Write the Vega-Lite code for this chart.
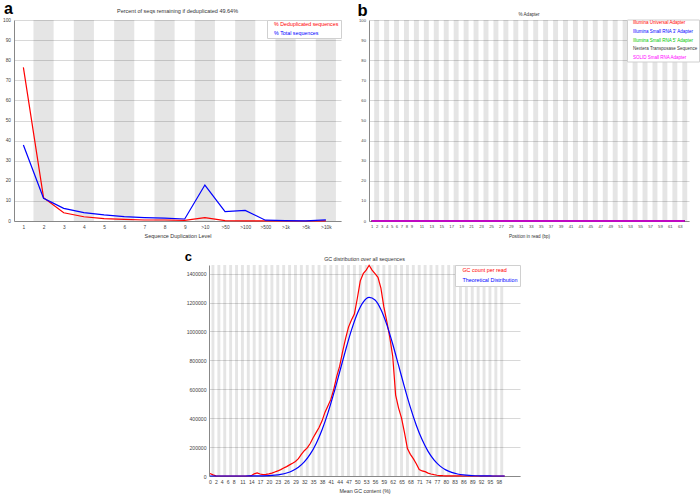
{
  "$schema": "https://vega.github.io/schema/vega-lite/v6.json",
  "background": "white",
  "padding": {"left": 2, "top": 0, "right": 0, "bottom": 0},
  "config": {
    "font": "Liberation Sans",
    "view": {"stroke": null},
    "axis": {"ticks": false, "grid": false, "domainColor": "#888", "domainWidth": 1, "labelColor": "#444", "titleColor": "#333", "titleFontWeight": "normal", "labelFlush": false, "labelOverlap": false, "labelBound": false, "gridColor": "#d8d8d8", "gridWidth": 1},
    "title": {"fontWeight": "normal", "color": "#333", "anchor": "middle", "frame": "group", "baseline": "bottom"},
    "legend": {"symbolType": "circle", "symbolSize": 0, "symbolStrokeWidth": 0, "symbolOpacity": 0, "labelOffset": 0, "labelLimit": 0, "strokeColor": "#d0d0d0", "fillColor": "#ffffff", "orient": "top-right", "offset": 0}
  },
  "spacing": 10,
  "resolve": {"scale": {"color": "independent"}, "legend": {"color": "independent"}},
  "vconcat": [
    {
      "hconcat": [
        {
          "width": 327, "height": 201,
          "title": {"text": "Percent of seqs remaining if deduplicated 49.64%", "fontSize": 5.5, "offset": -14},
          "layer": [
            {
              "data": {"values": [{"k": 2}, {"k": 4}, {"k": 6}, {"k": 8}, {"k": 10}, {"k": 12}, {"k": 14}, {"k": 16}]},
              "transform": [{"calculate": "datum.k - 0.5", "as": "lo"}, {"calculate": "datum.k + 0.5", "as": "hi"}],
              "mark": {"type": "rect", "color": "#000", "opacity": 0.1},
              "encoding": {
                "x": {"field": "lo", "type": "quantitative", "scale": {"domain": [0.535, 16.75], "nice": false, "zero": false},
                  "axis": {"values": [1, 2, 3, 4, 5, 6, 7, 8, 9, 10, 11, 12, 13, 14, 15, 16], "labelExpr": "['','1','2','3','4','5','6','7','8','9','>10','>50','>100','>500','>1k','>5k','>10k'][datum.value]", "labelFontSize": 4.8, "labelPadding": 3.5, "title": "Sequence Duplication Level", "titleFontSize": 5.4, "titlePadding": 4.5}},
                "x2": {"field": "hi"}
              }
            },
            {
              "data": {"values": [
                {"level": 1, "dedup": 76.4, "total": 37.8},
                {"level": 2, "dedup": 11.6, "total": 11.3},
                {"level": 3, "dedup": 4.1, "total": 6.3},
                {"level": 4, "dedup": 2.1, "total": 4.2},
                {"level": 5, "dedup": 1.2, "total": 3.0},
                {"level": 6, "dedup": 0.8, "total": 2.2},
                {"level": 7, "dedup": 0.5, "total": 1.7},
                {"level": 8, "dedup": 0.5, "total": 1.4},
                {"level": 9, "dedup": 0.3, "total": 1.0},
                {"level": 10, "dedup": 1.7, "total": 17.9},
                {"level": 11, "dedup": 0.2, "total": 4.7},
                {"level": 12, "dedup": 0.1, "total": 5.3},
                {"level": 13, "dedup": 0.05, "total": 0.4},
                {"level": 14, "dedup": 0, "total": 0.2},
                {"level": 15, "dedup": 0, "total": 0.1},
                {"level": 16, "dedup": 0.1, "total": 0.6}
              ]},
              "transform": [{"fold": ["dedup", "total"], "as": ["series", "pct"]}],
              "mark": {"type": "line", "strokeWidth": 1.2},
              "encoding": {
                "x": {"field": "level", "type": "quantitative", "scale": {"domain": [0.535, 16.75], "nice": false, "zero": false},
                  "axis": {"values": [1, 2, 3, 4, 5, 6, 7, 8, 9, 10, 11, 12, 13, 14, 15, 16], "labelExpr": "['','1','2','3','4','5','6','7','8','9','>10','>50','>100','>500','>1k','>5k','>10k'][datum.value]", "labelFontSize": 4.8, "labelPadding": 3.5, "title": "Sequence Duplication Level", "titleFontSize": 5.4, "titlePadding": 4.5}},
                "y": {"field": "pct", "type": "quantitative", "scale": {"domain": [0, 100], "nice": false},
                  "axis": {"values": [0, 10, 20, 30, 40, 50, 60, 70, 80, 90, 100], "grid": true, "labelFontSize": 4.8, "labelPadding": 3.5, "title": "a", "titleAngle": 0, "titleAlign": "left", "titleBaseline": "alphabetic", "titleX": -10.6, "titleY": -6.6, "titleFontSize": 16, "titleFontWeight": "bold", "titleColor": "#000"}},
                "color": {"field": "series", "type": "nominal", "scale": {"domain": ["dedup", "total"], "range": ["#ff0000", "#0000ff"]},
                  "legend": {"title": null, "labelFontSize": 5.3, "rowPadding": 2.3, "padding": 1.8, "labelExpr": "datum.value == 'dedup' ? '% Deduplicated sequences' : '% Total sequences'", "encode": {"labels": {"update": {"fill": {"signal": "datum.value == 'dedup' ? '#ff0000' : '#0000ff'"}}}}}}
              }
            }
          ]
        },
        {
          "width": 320, "height": 201,
          "title": {"text": "% Adapter", "fontSize": 4.6, "offset": -14},
          "layer": [
            {
              "data": {"values": [{"k": 2}, {"k": 4}, {"k": 6}, {"k": 8}, {"k": 10}, {"k": 12}, {"k": 14}, {"k": 16}, {"k": 18}, {"k": 20}, {"k": 22}, {"k": 24}, {"k": 26}, {"k": 28}, {"k": 30}, {"k": 32}, {"k": 34}, {"k": 36}, {"k": 38}, {"k": 40}, {"k": 42}, {"k": 44}, {"k": 46}, {"k": 48}, {"k": 50}, {"k": 52}, {"k": 54}, {"k": 56}, {"k": 58}, {"k": 60}, {"k": 62}, {"k": 64}]},
              "transform": [{"calculate": "datum.k - 0.5", "as": "lo"}, {"calculate": "datum.k + 0.5", "as": "hi"}],
              "mark": {"type": "rect", "color": "#000", "opacity": 0.1},
              "encoding": {
                "x": {"field": "lo", "type": "quantitative", "scale": {"domain": [0.46, 64.85], "nice": false, "zero": false},
                  "axis": {"values": [1, 2, 3, 4, 5, 6, 7, 8, 9, 11, 13, 15, 17, 19, 21, 23, 25, 27, 29, 31, 33, 35, 37, 39, 41, 43, 45, 47, 49, 51, 53, 55, 57, 59, 61, 63], "labelFontSize": 4.2, "labelPadding": 3.2, "title": "Position in read (bp)", "titleFontSize": 4.6, "titlePadding": 5}},
                "x2": {"field": "hi"}
              }
            },
            {
              "data": {"values": [
                {"pos": 1, "k1": 0, "k2": 0, "k3": 0, "k4": 0, "k5": 0}, {"pos": 2, "k1": 0, "k2": 0, "k3": 0, "k4": 0, "k5": 0},
                {"pos": 3, "k1": 0, "k2": 0, "k3": 0, "k4": 0, "k5": 0}, {"pos": 4, "k1": 0, "k2": 0, "k3": 0, "k4": 0, "k5": 0},
                {"pos": 5, "k1": 0, "k2": 0, "k3": 0, "k4": 0, "k5": 0}, {"pos": 6, "k1": 0, "k2": 0, "k3": 0, "k4": 0, "k5": 0},
                {"pos": 7, "k1": 0, "k2": 0, "k3": 0, "k4": 0, "k5": 0}, {"pos": 8, "k1": 0, "k2": 0, "k3": 0, "k4": 0, "k5": 0},
                {"pos": 9, "k1": 0, "k2": 0, "k3": 0, "k4": 0, "k5": 0}, {"pos": 10, "k1": 0, "k2": 0, "k3": 0, "k4": 0, "k5": 0},
                {"pos": 11, "k1": 0, "k2": 0, "k3": 0, "k4": 0, "k5": 0}, {"pos": 12, "k1": 0, "k2": 0, "k3": 0, "k4": 0, "k5": 0},
                {"pos": 13, "k1": 0, "k2": 0, "k3": 0, "k4": 0, "k5": 0}, {"pos": 14, "k1": 0, "k2": 0, "k3": 0, "k4": 0, "k5": 0},
                {"pos": 15, "k1": 0, "k2": 0, "k3": 0, "k4": 0, "k5": 0}, {"pos": 16, "k1": 0, "k2": 0, "k3": 0, "k4": 0, "k5": 0},
                {"pos": 17, "k1": 0, "k2": 0, "k3": 0, "k4": 0, "k5": 0}, {"pos": 18, "k1": 0, "k2": 0, "k3": 0, "k4": 0, "k5": 0},
                {"pos": 19, "k1": 0, "k2": 0, "k3": 0, "k4": 0, "k5": 0}, {"pos": 20, "k1": 0, "k2": 0, "k3": 0, "k4": 0, "k5": 0},
                {"pos": 21, "k1": 0, "k2": 0, "k3": 0, "k4": 0, "k5": 0}, {"pos": 22, "k1": 0, "k2": 0, "k3": 0, "k4": 0, "k5": 0},
                {"pos": 23, "k1": 0, "k2": 0, "k3": 0, "k4": 0, "k5": 0}, {"pos": 24, "k1": 0, "k2": 0, "k3": 0, "k4": 0, "k5": 0},
                {"pos": 25, "k1": 0, "k2": 0, "k3": 0, "k4": 0, "k5": 0}, {"pos": 26, "k1": 0, "k2": 0, "k3": 0, "k4": 0, "k5": 0},
                {"pos": 27, "k1": 0, "k2": 0, "k3": 0, "k4": 0, "k5": 0}, {"pos": 28, "k1": 0, "k2": 0, "k3": 0, "k4": 0, "k5": 0},
                {"pos": 29, "k1": 0, "k2": 0, "k3": 0, "k4": 0, "k5": 0}, {"pos": 30, "k1": 0, "k2": 0, "k3": 0, "k4": 0, "k5": 0},
                {"pos": 31, "k1": 0, "k2": 0, "k3": 0, "k4": 0, "k5": 0}, {"pos": 32, "k1": 0, "k2": 0, "k3": 0, "k4": 0, "k5": 0},
                {"pos": 33, "k1": 0, "k2": 0, "k3": 0, "k4": 0, "k5": 0}, {"pos": 34, "k1": 0, "k2": 0, "k3": 0, "k4": 0, "k5": 0},
                {"pos": 35, "k1": 0, "k2": 0, "k3": 0, "k4": 0, "k5": 0}, {"pos": 36, "k1": 0, "k2": 0, "k3": 0, "k4": 0, "k5": 0},
                {"pos": 37, "k1": 0, "k2": 0, "k3": 0, "k4": 0, "k5": 0}, {"pos": 38, "k1": 0, "k2": 0, "k3": 0, "k4": 0, "k5": 0},
                {"pos": 39, "k1": 0, "k2": 0, "k3": 0, "k4": 0, "k5": 0}, {"pos": 40, "k1": 0, "k2": 0, "k3": 0, "k4": 0, "k5": 0},
                {"pos": 41, "k1": 0, "k2": 0, "k3": 0, "k4": 0, "k5": 0}, {"pos": 42, "k1": 0, "k2": 0, "k3": 0, "k4": 0, "k5": 0},
                {"pos": 43, "k1": 0, "k2": 0, "k3": 0, "k4": 0, "k5": 0}, {"pos": 44, "k1": 0, "k2": 0, "k3": 0, "k4": 0, "k5": 0},
                {"pos": 45, "k1": 0, "k2": 0, "k3": 0, "k4": 0, "k5": 0}, {"pos": 46, "k1": 0, "k2": 0, "k3": 0, "k4": 0, "k5": 0},
                {"pos": 47, "k1": 0, "k2": 0, "k3": 0, "k4": 0, "k5": 0}, {"pos": 48, "k1": 0, "k2": 0, "k3": 0, "k4": 0, "k5": 0},
                {"pos": 49, "k1": 0, "k2": 0, "k3": 0, "k4": 0, "k5": 0}, {"pos": 50, "k1": 0, "k2": 0, "k3": 0, "k4": 0, "k5": 0},
                {"pos": 51, "k1": 0, "k2": 0, "k3": 0, "k4": 0, "k5": 0}, {"pos": 52, "k1": 0, "k2": 0, "k3": 0, "k4": 0, "k5": 0},
                {"pos": 53, "k1": 0, "k2": 0, "k3": 0, "k4": 0, "k5": 0}, {"pos": 54, "k1": 0, "k2": 0, "k3": 0, "k4": 0, "k5": 0},
                {"pos": 55, "k1": 0, "k2": 0, "k3": 0, "k4": 0, "k5": 0}, {"pos": 56, "k1": 0, "k2": 0, "k3": 0, "k4": 0, "k5": 0},
                {"pos": 57, "k1": 0, "k2": 0, "k3": 0, "k4": 0, "k5": 0}, {"pos": 58, "k1": 0, "k2": 0, "k3": 0, "k4": 0, "k5": 0},
                {"pos": 59, "k1": 0, "k2": 0, "k3": 0, "k4": 0, "k5": 0}, {"pos": 60, "k1": 0, "k2": 0, "k3": 0, "k4": 0, "k5": 0},
                {"pos": 61, "k1": 0, "k2": 0, "k3": 0, "k4": 0, "k5": 0}, {"pos": 62, "k1": 0, "k2": 0, "k3": 0, "k4": 0, "k5": 0},
                {"pos": 63, "k1": 0, "k2": 0, "k3": 0, "k4": 0, "k5": 0}, {"pos": 64, "k1": 0, "k2": 0, "k3": 0, "k4": 0, "k5": 0}
              ]},
              "transform": [{"fold": ["k1", "k2", "k3", "k4", "k5"], "as": ["adapter", "pct"]}],
              "mark": {"type": "line", "strokeWidth": 1.3},
              "encoding": {
                "x": {"field": "pos", "type": "quantitative", "scale": {"domain": [0.46, 64.85], "nice": false, "zero": false},
                  "axis": {"values": [1, 2, 3, 4, 5, 6, 7, 8, 9, 11, 13, 15, 17, 19, 21, 23, 25, 27, 29, 31, 33, 35, 37, 39, 41, 43, 45, 47, 49, 51, 53, 55, 57, 59, 61, 63], "labelFontSize": 4.2, "labelPadding": 3.2, "title": "Position in read (bp)", "titleFontSize": 4.6, "titlePadding": 5}},
                "y": {"field": "pct", "type": "quantitative", "scale": {"domain": [0, 100], "nice": false},
                  "axis": {"values": [0, 10, 20, 30, 40, 50, 60, 70, 80, 90, 100], "grid": true, "labelFontSize": 4.2, "labelPadding": 3.5, "title": "b", "titleAngle": 0, "titleAlign": "left", "titleBaseline": "alphabetic", "titleX": -12, "titleY": -4.5, "titleFontSize": 16.5, "titleFontWeight": "bold", "titleColor": "#000"}},
                "color": {"field": "adapter", "type": "nominal", "scale": {"domain": ["k1", "k2", "k3", "k4", "k5"], "range": ["#ff0000", "#0000ff", "#00c800", "#000000", "#ff00ff"]},
                  "legend": {"title": null, "orient": "none", "legendX": 258, "legendY": -0.5, "labelFontSize": 4.5, "rowPadding": 3.7, "padding": 1.5,
                    "labelExpr": "['Illumina Universal Adapter','Illumina Small RNA 3\\' Adapter','Illumina Small RNA 5\\' Adapter','Nextera Transposase Sequence','SOLID Small RNA Adapter'][indexof(['k1','k2','k3','k4','k5'], datum.value)]",
                    "encode": {"labels": {"update": {"fill": {"signal": "['#ff0000','#0000ff','#00c800','#333333','#ff00ff'][indexof(['k1','k2','k3','k4','k5'], datum.value)]"}}}}}}
              }
            }
          ]
        }
      ],
      "spacing": 15,
      "resolve": {"scale": {"color": "independent"}, "legend": {"color": "independent"}}
    },
    {
      "hconcat": [
        {
          "width": 170, "height": 10,
          "view": {"fill": "white", "stroke": null},
          "data": {"values": []},
          "mark": "point",
          "encoding": {}
        },
        {
          "width": 311, "height": 211,
          "title": {"text": "GC distribution over all sequences", "fontSize": 5.3, "offset": -12},
          "layer": [
            {
              "data": {"values": [{"k": 1}, {"k": 3}, {"k": 5}, {"k": 7}, {"k": 9}, {"k": 11}, {"k": 13}, {"k": 15}, {"k": 17}, {"k": 19}, {"k": 21}, {"k": 23}, {"k": 25}, {"k": 27}, {"k": 29}, {"k": 31}, {"k": 33}, {"k": 35}, {"k": 37}, {"k": 39}, {"k": 41}, {"k": 43}, {"k": 45}, {"k": 47}, {"k": 49}, {"k": 51}, {"k": 53}, {"k": 55}, {"k": 57}, {"k": 59}, {"k": 61}, {"k": 63}, {"k": 65}, {"k": 67}, {"k": 69}, {"k": 71}, {"k": 73}, {"k": 75}, {"k": 77}, {"k": 79}, {"k": 81}, {"k": 83}, {"k": 85}, {"k": 87}, {"k": 89}, {"k": 91}, {"k": 93}, {"k": 95}, {"k": 97}, {"k": 99}]},
              "transform": [{"calculate": "datum.k - 0.5", "as": "lo"}, {"calculate": "datum.k + 0.5", "as": "hi"}],
              "mark": {"type": "rect", "color": "#000", "opacity": 0.1},
              "encoding": {
                "x": {"field": "lo", "type": "quantitative", "scale": {"domain": [-0.34, 105.2], "nice": false, "zero": false},
                  "axis": {"values": [0, 2, 4, 6, 8, 11, 14, 17, 20, 23, 26, 29, 32, 35, 38, 41, 44, 47, 50, 53, 56, 59, 62, 65, 68, 71, 74, 77, 80, 83, 86, 89, 92, 95, 98], "labelFontSize": 5.1, "labelPadding": 3.5, "title": "Mean GC content (%)", "titleFontSize": 5.3, "titlePadding": 4}},
                "x2": {"field": "hi"}
              }
            },
            {
              "data": {"values": [
                {"gc": 0, "n": 17000}, {"gc": 1, "n": 8000}, {"gc": 2, "n": 1000}, {"gc": 3, "n": 0}, {"gc": 4, "n": 0}, {"gc": 5, "n": 0}, {"gc": 6, "n": 0}, {"gc": 7, "n": 0}, {"gc": 8, "n": 0}, {"gc": 9, "n": 0},
                {"gc": 10, "n": 0}, {"gc": 11, "n": 0}, {"gc": 12, "n": 0}, {"gc": 13, "n": 0}, {"gc": 14, "n": 2000}, {"gc": 15, "n": 15000}, {"gc": 16, "n": 22000}, {"gc": 17, "n": 14000}, {"gc": 18, "n": 10000}, {"gc": 19, "n": 11000},
                {"gc": 20, "n": 15000}, {"gc": 21, "n": 20000}, {"gc": 22, "n": 28000}, {"gc": 23, "n": 35000}, {"gc": 24, "n": 44000}, {"gc": 25, "n": 55000}, {"gc": 26, "n": 65000}, {"gc": 27, "n": 77000}, {"gc": 28, "n": 88000}, {"gc": 29, "n": 100000},
                {"gc": 30, "n": 120000}, {"gc": 31, "n": 150000}, {"gc": 32, "n": 175000}, {"gc": 33, "n": 195000}, {"gc": 34, "n": 225000}, {"gc": 35, "n": 265000}, {"gc": 36, "n": 300000}, {"gc": 37, "n": 335000}, {"gc": 38, "n": 380000}, {"gc": 39, "n": 440000},
                {"gc": 40, "n": 485000}, {"gc": 41, "n": 530000}, {"gc": 42, "n": 600000}, {"gc": 43, "n": 690000}, {"gc": 44, "n": 760000}, {"gc": 45, "n": 860000}, {"gc": 46, "n": 950000}, {"gc": 47, "n": 1030000}, {"gc": 48, "n": 1080000}, {"gc": 49, "n": 1120000},
                {"gc": 50, "n": 1230000}, {"gc": 51, "n": 1350000}, {"gc": 52, "n": 1400000}, {"gc": 53, "n": 1425000}, {"gc": 54, "n": 1458000}, {"gc": 55, "n": 1425000}, {"gc": 56, "n": 1400000}, {"gc": 57, "n": 1375000}, {"gc": 58, "n": 1300000}, {"gc": 59, "n": 1170000},
                {"gc": 60, "n": 1070000}, {"gc": 61, "n": 960000}, {"gc": 62, "n": 830000}, {"gc": 63, "n": 560000}, {"gc": 64, "n": 470000}, {"gc": 65, "n": 400000}, {"gc": 66, "n": 300000}, {"gc": 67, "n": 190000}, {"gc": 68, "n": 150000}, {"gc": 69, "n": 120000},
                {"gc": 70, "n": 85000}, {"gc": 71, "n": 45000}, {"gc": 72, "n": 35000}, {"gc": 73, "n": 30000}, {"gc": 74, "n": 20000}, {"gc": 75, "n": 14000}, {"gc": 76, "n": 9000}, {"gc": 77, "n": 5000}, {"gc": 78, "n": 3000}, {"gc": 79, "n": 2000},
                {"gc": 80, "n": 1500}, {"gc": 81, "n": 1000}, {"gc": 82, "n": 700}, {"gc": 83, "n": 500}, {"gc": 84, "n": 300}, {"gc": 85, "n": 200}, {"gc": 86, "n": 100}, {"gc": 87, "n": 0}, {"gc": 88, "n": 0}, {"gc": 89, "n": 0},
                {"gc": 90, "n": 0}, {"gc": 91, "n": 0}, {"gc": 92, "n": 0}, {"gc": 93, "n": 0}, {"gc": 94, "n": 0}, {"gc": 95, "n": 0}, {"gc": 96, "n": 0}, {"gc": 97, "n": 0}, {"gc": 98, "n": 0}, {"gc": 99, "n": 0}, {"gc": 100, "n": 0}
              ]},
              "mark": {"type": "line", "strokeWidth": 1.2},
              "encoding": {
                "x": {"field": "gc", "type": "quantitative", "scale": {"domain": [-0.34, 105.2], "nice": false, "zero": false},
                  "axis": {"values": [0, 2, 4, 6, 8, 11, 14, 17, 20, 23, 26, 29, 32, 35, 38, 41, 44, 47, 50, 53, 56, 59, 62, 65, 68, 71, 74, 77, 80, 83, 86, 89, 92, 95, 98], "labelFontSize": 5.1, "labelPadding": 3.5, "title": "Mean GC content (%)", "titleFontSize": 5.3, "titlePadding": 4}},
                "y": {"field": "n", "type": "quantitative", "scale": {"domain": [0, 1460000], "nice": false},
                  "axis": {"values": [0, 200000, 400000, 600000, 800000, 1000000, 1200000, 1400000], "format": "d", "grid": true, "labelFontSize": 5.1, "labelPadding": 3, "title": "c", "titleAngle": 0, "titleAlign": "left", "titleBaseline": "alphabetic", "titleX": -24.7, "titleY": -5, "titleFontSize": 13, "titleFontWeight": "bold", "titleColor": "#000"}},
                "color": {"datum": "GC count per read", "type": "nominal", "scale": {"domain": ["GC count per read", "Theoretical Distribution"], "range": ["#ff0000", "#0000ff"]},
                  "legend": {"title": null, "labelFontSize": 5.4, "rowPadding": 3, "padding": 2, "encode": {"labels": {"update": {"fill": {"signal": "datum.value == 'GC count per read' ? '#ff0000' : '#0000ff'"}}}}}}
              }
            },
            {
              "data": {"values": [
                {"gc": 0, "n": 0}, {"gc": 2, "n": 0}, {"gc": 4, "n": 0}, {"gc": 6, "n": 0}, {"gc": 8, "n": 10}, {"gc": 10, "n": 55}, {"gc": 12, "n": 134}, {"gc": 14, "n": 312}, {"gc": 16, "n": 696}, {"gc": 18, "n": 1488},
                {"gc": 20, "n": 3057}, {"gc": 22, "n": 6027}, {"gc": 24, "n": 11424}, {"gc": 26, "n": 20770}, {"gc": 28, "n": 36260}, {"gc": 30, "n": 60810}, {"gc": 32, "n": 97790}, {"gc": 34, "n": 151000}, {"gc": 36, "n": 223900}, {"gc": 38, "n": 318700},
                {"gc": 40, "n": 435400}, {"gc": 42, "n": 571300}, {"gc": 44, "n": 719500}, {"gc": 46, "n": 869800}, {"gc": 48, "n": 1009400}, {"gc": 50, "n": 1124700}, {"gc": 52, "n": 1203100}, {"gc": 54, "n": 1235400}, {"gc": 56, "n": 1218000}, {"gc": 58, "n": 1152600},
                {"gc": 60, "n": 1047300}, {"gc": 62, "n": 913400}, {"gc": 64, "n": 764900}, {"gc": 66, "n": 614800}, {"gc": 68, "n": 474400}, {"gc": 70, "n": 351500}, {"gc": 72, "n": 250000}, {"gc": 74, "n": 170700}, {"gc": 76, "n": 111900}, {"gc": 78, "n": 70350},
                {"gc": 80, "n": 42500}, {"gc": 82, "n": 24660}, {"gc": 84, "n": 13730}, {"gc": 86, "n": 7336}, {"gc": 88, "n": 3761}, {"gc": 90, "n": 1854}, {"gc": 92, "n": 877}, {"gc": 94, "n": 398}, {"gc": 96, "n": 160}, {"gc": 98, "n": 65}, {"gc": 100, "n": 25}
              ]},
              "mark": {"type": "line", "strokeWidth": 1.2, "interpolate": "monotone"},
              "encoding": {
                "x": {"field": "gc", "type": "quantitative", "scale": {"domain": [-0.34, 105.2], "nice": false, "zero": false},
                  "axis": {"values": [0, 2, 4, 6, 8, 11, 14, 17, 20, 23, 26, 29, 32, 35, 38, 41, 44, 47, 50, 53, 56, 59, 62, 65, 68, 71, 74, 77, 80, 83, 86, 89, 92, 95, 98], "labelFontSize": 5.1, "labelPadding": 3.5, "title": "Mean GC content (%)", "titleFontSize": 5.3, "titlePadding": 4}},
                "y": {"field": "n", "type": "quantitative", "scale": {"domain": [0, 1460000], "nice": false},
                  "axis": {"values": [0, 200000, 400000, 600000, 800000, 1000000, 1200000, 1400000], "format": "d", "grid": true, "labelFontSize": 5.1, "labelPadding": 3, "title": "c", "titleAngle": 0, "titleAlign": "left", "titleBaseline": "alphabetic", "titleX": -24.7, "titleY": -5, "titleFontSize": 13, "titleFontWeight": "bold", "titleColor": "#000"}},
                "color": {"datum": "Theoretical Distribution", "type": "nominal"}
              }
            }
          ]
        }
      ],
      "spacing": 0,
      "resolve": {"scale": {"color": "independent"}, "legend": {"color": "independent"}}
    }
  ]
}
